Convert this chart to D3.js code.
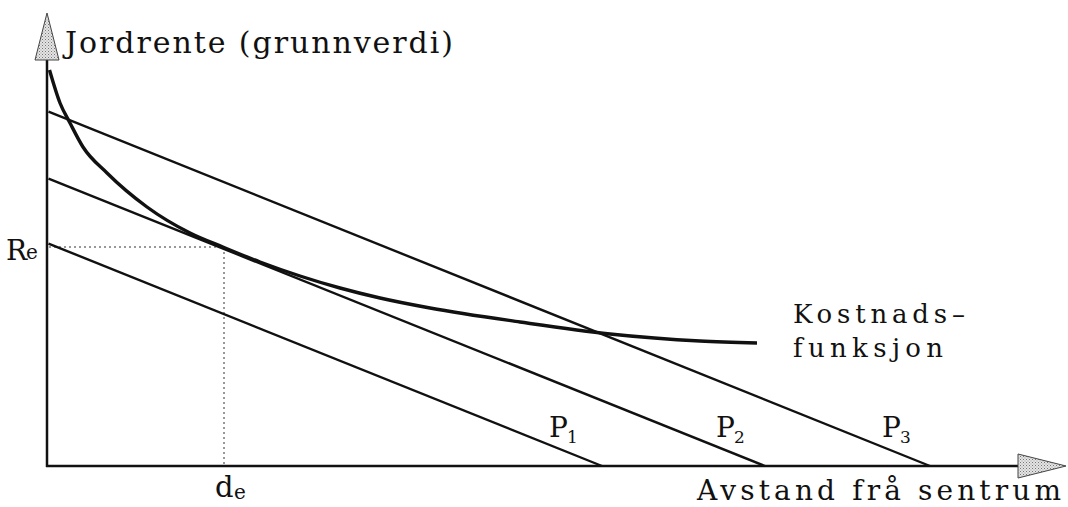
<!DOCTYPE html>
<html>
<head>
<meta charset="utf-8">
<script src="https://cdn.jsdelivr.net/npm/d3@7"></script>
<style>
  html, body { margin: 0; padding: 0; background: #fff; }
  svg { display: block; }
  text { font-family: "DejaVu Serif", "Liberation Serif", serif; fill: #111; }
</style>
</head>
<body>
<svg id="chart" width="1068" height="507"></svg>
<script>
// ---- data (chart units) ----
const lineNames = ["P1", "P2", "P3"];
const rentAtCentre = [22.3, 28.8, 35.5];      // value at distance 0
const zeroRentDistance = [55.5, 71.8, 88.3];  // distance where value hits 0
const costDistance = [0.25, 1.3, 2.3, 3.6, 6.0, 10.0, 14.3, 17.7, 21.3, 25.3, 29.3, 33.3, 38.3, 47.3, 56.3, 65.3, 71.0];
const costValue    = [39.6, 36.3, 34.3, 31.9, 29.3, 25.9, 23.3, 21.85, 20.4, 19.0, 17.8, 16.8, 15.8, 14.4, 13.2, 12.5, 12.3];
const equilibriumDistance = 17.7;
const equilibriumRent = 21.9;
const yTitle = "Jordrente (grunnverdi)";
const xTitle = "Avstand frå sentrum";
const costLabel = ["Kostnads–", "funksjon"];

// ---- scales ----
const svg = d3.select("#chart");
const x = d3.scaleLinear().domain([0, 97.1]).range([47, 1018]);
const y = d3.scaleLinear().domain([0, 45]).range([466, 16]);

// stipple pattern for arrowheads
const defs = svg.append("defs");
const pat = defs.append("pattern").attr("id", "stip")
  .attr("width", 3).attr("height", 3).attr("patternUnits", "userSpaceOnUse");
pat.append("rect").attr("width", 3).attr("height", 3).attr("fill", "#e4e4e4");
pat.append("rect").attr("x", 0).attr("y", 0).attr("width", 1).attr("height", 1).attr("fill", "#777");
pat.append("rect").attr("x", 1.5).attr("y", 1.5).attr("width", 1).attr("height", 1).attr("fill", "#999");

// ---- axes ----
const x0 = x(0), yb = y(0);
svg.append("line").attr("x1", x0).attr("y1", yb + 1).attr("x2", x0).attr("y2", 60)
  .attr("stroke", "#111").attr("stroke-width", 2.5);
svg.append("line").attr("x1", x0 - 1).attr("y1", yb).attr("x2", x(97.1)).attr("y2", yb)
  .attr("stroke", "#111").attr("stroke-width", 2.5);
// arrowheads
svg.append("path").attr("d", `M${x0 - 12},60 L${x0 + 12},60 L${x0},13 Z`)
  .attr("fill", "url(#stip)").attr("stroke", "#444").attr("stroke-width", 1);
svg.append("path").attr("d", `M${x(97.1)},${yb - 12} L${x(97.1)},${yb + 12} L1066,${yb} Z`)
  .attr("fill", "url(#stip)").attr("stroke", "#444").attr("stroke-width", 1);

// ---- dotted guide lines ----
svg.append("line")
  .attr("x1", x0 + 2).attr("y1", y(equilibriumRent))
  .attr("x2", x(equilibriumDistance)).attr("y2", y(equilibriumRent))
  .attr("stroke", "#333").attr("stroke-width", 1).attr("stroke-dasharray", "2,3");
svg.append("line")
  .attr("x1", x(equilibriumDistance)).attr("y1", y(equilibriumRent))
  .attr("x2", x(equilibriumDistance)).attr("y2", yb - 1)
  .attr("stroke", "#333").attr("stroke-width", 1).attr("stroke-dasharray", "2,3");

// ---- bid-rent lines ----
lineNames.forEach((n, i) => {
  svg.append("line")
    .attr("x1", x(0.15)).attr("y1", y(rentAtCentre[i] * (1 - 0.15 / zeroRentDistance[i])))
    .attr("x2", x(zeroRentDistance[i])).attr("y2", y(0))
    .attr("stroke", "#111").attr("stroke-width", 2.4);
});

// ---- cost function curve ----
const pts = costDistance.map((d, i) => [d, costValue[i]]);
svg.append("path").datum(pts)
  .attr("d", d3.line().x(d => x(d[0])).y(d => y(d[1])).curve(d3.curveMonotoneX))
  .attr("fill", "none").attr("stroke", "#111").attr("stroke-width", 3.4).attr("stroke-linejoin", "round");

// ---- texts ----
svg.append("text").attr("x", 65).attr("y", 53).attr("font-size", 30)
  .attr("textLength", 388).attr("lengthAdjust", "spacing").text(yTitle);
svg.append("text").attr("x", 697).attr("y", 500).attr("font-size", 28)
  .attr("textLength", 364).attr("lengthAdjust", "spacing").text(xTitle);
svg.append("text").attr("x", 793).attr("y", 323).attr("font-size", 26)
  .attr("textLength", 172).attr("lengthAdjust", "spacing").text(costLabel[0]);
svg.append("text").attr("x", 793).attr("y", 357).attr("font-size", 26)
  .attr("textLength", 150).attr("lengthAdjust", "spacing").text(costLabel[1]);

// R_e and d_e
svg.append("text").attr("x", 6).attr("y", 260).attr("font-size", 28).text("R");
svg.append("text").attr("x", 26).attr("y", 259).attr("font-size", 20).text("e");
svg.append("text").attr("x", 215).attr("y", 497).attr("font-size", 29).text("d");
svg.append("text").attr("x", 234).attr("y", 499).attr("font-size", 20).text("e");

// P labels
const pLabelX = [549, 716, 882];
lineNames.forEach((n, i) => {
  svg.append("text").attr("x", pLabelX[i]).attr("y", 437).attr("font-size", 28).text(n[0]);
  svg.append("text").attr("x", pLabelX[i] + 18).attr("y", 443).attr("font-size", 17).text(n.slice(1));
});
</script>
</body>
</html>
